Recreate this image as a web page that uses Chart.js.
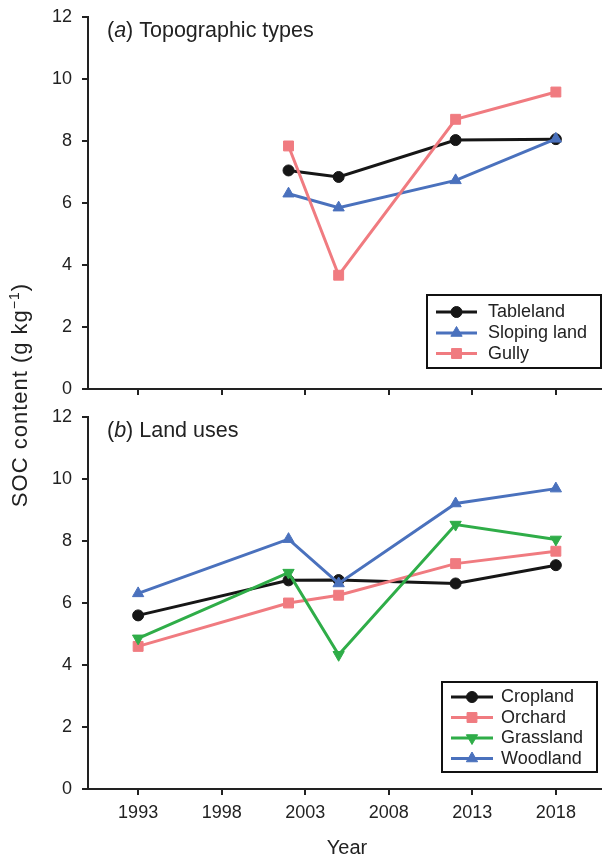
<!DOCTYPE html>
<html><head><meta charset="utf-8">
<script src="https://cdn.jsdelivr.net/npm/chart.js@4.4.0/dist/chart.umd.min.js"></script>
<style>
html,body{margin:0;padding:0;background:#fff;overflow:hidden;width:602px;height:858px;}
#clip{position:relative;width:602px;height:858px;overflow:hidden;background:#fff;}
#wrap{position:absolute;left:0;top:0;width:640px;height:880px;}
#cB{position:absolute;left:0;top:0;width:614px;height:870px;}
#cA{position:absolute;left:0;top:0;width:614px;height:400px;}
</style></head><body>
<div id="clip"><div id="wrap"><canvas id="cB" width="614" height="870"></canvas><canvas id="cA" width="614" height="400"></canvas></div></div>
<script>
// ---- data ----
const yearTicks = [1993, 1998, 2003, 2008, 2013, 2018];
const socTicks = [0, 2, 4, 6, 8, 10, 12];

const yearsA = [2002, 2005, 2012, 2018];
const tableland = [7.05, 6.84, 8.03, 8.06];
const slopingLand = [6.30, 5.85, 6.73, 8.07];
const gully = [7.84, 3.67, 8.70, 9.58];

const yearsB = [1993, 2002, 2005, 2012, 2018];
const cropland = [5.60, 6.73, 6.74, 6.63, 7.22];
const orchard = [4.60, 6.00, 6.25, 7.27, 7.67];
const grassland = [4.86, 6.98, 4.33, 8.53, 8.05];
const woodland = [6.31, 8.06, 6.63, 9.21, 9.69];

// ---- styles ----
const FONT = '"Liberation Sans", Arial, Helvetica, sans-serif';
const TXT = '#222';
const AX = '#222';
const C_BLACK = '#161616', C_BLUE = '#4a71bd', C_PINK = '#f07b80', C_GREEN = '#2fad48';

function pts(xs, ys) { return xs.map((x, i) => ({x: x, y: ys[i]})); }
function ds(label, xs, ys, color, style, r, rot, order) {
  return {label, data: pts(xs, ys), borderColor: color, backgroundColor: color,
    pointBackgroundColor: color, pointBorderColor: color, pointStyle: style,
    pointRadius: r, pointRotation: rot || 0, pointBorderWidth: 1, borderWidth: 3,
    tension: 0, order: order, clip: false};
}

const boxLegend = {
  id: 'boxLegend',
  afterDraw(chart, args, o) {
    if (!o || !o.box) return;
    const ctx = chart.ctx; ctx.save();
    ctx.lineWidth = 2; ctx.strokeStyle = '#111';
    ctx.strokeRect(o.box[0], o.box[1], o.box[2], o.box[3]);
    chart.data.datasets.forEach((d, i) => {
      const y = o.rows[i];
      ctx.strokeStyle = d.borderColor; ctx.lineWidth = 3;
      ctx.beginPath(); ctx.moveTo(o.line[0], y); ctx.lineTo(o.line[1], y); ctx.stroke();
      ctx.fillStyle = d.borderColor; ctx.strokeStyle = d.borderColor; ctx.lineWidth = 1;
      Chart.helpers.drawPoint(ctx, {pointStyle: d.pointStyle, radius: d.pointRadius, rotation: d.pointRotation || 0, borderWidth: 1}, (o.line[0] + o.line[1]) / 2, y);
      ctx.fillStyle = TXT; ctx.font = '18px ' + FONT; ctx.textBaseline = 'middle'; ctx.textAlign = 'left';
      ctx.fillText(d.label, o.textX, y + 0.5);
    });
    ctx.restore();
  }
};

const panelText = {
  id: 'panelText',
  afterDraw(chart, args, o) {
    if (!o) return;
    const ctx = chart.ctx; ctx.save();
    ctx.fillStyle = TXT; ctx.textBaseline = 'alphabetic'; ctx.textAlign = 'left';
    if (o.title) {
      let x = o.title.x; const y = o.title.y;
      const parts = [['(', ''], [o.title.letter, 'italic '], [') ' + o.title.text, '']];
      parts.forEach(p => { ctx.font = p[1] + '21.5px ' + FONT; ctx.fillText(p[0], x, y); x += ctx.measureText(p[0]).width; });
    }
    if (o.ytitle) {
      ctx.translate(o.ytitle.x, o.ytitle.y); ctx.rotate(-Math.PI / 2);
      try { ctx.letterSpacing = '1px'; } catch (e) {}
      const main = 'SOC content (g kg', sup = '\u22121', end = ')';
      ctx.font = '22px ' + FONT; const w1 = ctx.measureText(main).width, w3 = ctx.measureText(end).width;
      ctx.font = '14px ' + FONT; const w2 = ctx.measureText(sup).width;
      let x = -(w1 + w2 + w3) / 2;
      ctx.font = '22px ' + FONT; ctx.fillText(main, x, 0); x += w1;
      ctx.font = '14px ' + FONT; ctx.fillText(sup, x, -8); x += w2;
      ctx.font = '22px ' + FONT; ctx.fillText(end, x, 0);
    }
    ctx.restore();
  }
};

function yScale() {
  return {type: 'linear', min: 0, max: 12,
    afterBuildTicks: s => { s.ticks = socTicks.map(v => ({value: v})); },
    afterFit: s => { s.width = 88; s.paddingTop = 0; s.paddingBottom = 0; s.paddingLeft = 0; s.paddingRight = 0; },
    border: {display: true, color: AX, width: 2},
    grid: {drawOnChartArea: false, drawTicks: true, tickLength: 6, lineWidth: 2, color: AX, tickColor: AX},
    ticks: {color: TXT, font: {family: FONT, size: 18}, padding: 10, callback: v => String(v)}};
}
function xScale(showLabels, h) {
  return {type: 'linear', min: 1990, max: 2021,
    afterBuildTicks: s => { s.ticks = yearTicks.map(v => ({value: v})); },
    afterFit: s => { s.height = h; s.paddingLeft = 0; s.paddingRight = 0; s.paddingTop = 0; s.paddingBottom = 0; },
    border: {display: true, color: AX, width: 2},
    grid: {drawOnChartArea: false, drawTicks: true, tickLength: 6, lineWidth: 2, color: AX, tickColor: AX},
    ticks: {display: showLabels, color: TXT, font: {family: FONT, size: 18}, padding: 7, maxRotation: 0, autoSkip: false, callback: v => String(v)},
    title: {display: showLabels, text: 'Year', color: TXT, font: {family: FONT, size: 20}, padding: {top: 0, bottom: 10}}};
}

Chart.register(boxLegend, panelText);

new Chart(document.getElementById('cB'), {
  type: 'line',
  data: {datasets: [
    ds('Cropland', yearsB, cropland, C_BLACK, 'circle', 5.5, 0, 3),
    ds('Orchard', yearsB, orchard, C_PINK, 'rect', 7, 0, 2),
    ds('Grassland', yearsB, grassland, C_GREEN, 'triangle', 6.5, 180, 1),
    ds('Woodland', yearsB, woodland, C_BLUE, 'triangle', 6.5, 0, 0)
  ]},
  options: {responsive: false, animation: false, devicePixelRatio: 1,
    layout: {padding: {top: 417, left: 0, right: 0, bottom: 0}},
    scales: {x: xScale(true, 81), y: yScale()},
    plugins: {legend: {display: false}, tooltip: {enabled: false},
      boxLegend: {box: [442, 682, 155, 90], rows: [697, 717.5, 738, 758.5], line: [451, 493], textX: 501},
      panelText: {title: {x: 107, y: 437, letter: 'b', text: 'Land uses'}, ytitle: {x: 27, y: 395}}}}
});

new Chart(document.getElementById('cA'), {
  type: 'line',
  data: {datasets: [
    ds('Tableland', yearsA, tableland, C_BLACK, 'circle', 5.5, 0, 2),
    ds('Sloping land', yearsA, slopingLand, C_BLUE, 'triangle', 6.5, 0, 1),
    ds('Gully', yearsA, gully, C_PINK, 'rect', 7, 0, 0)
  ]},
  options: {responsive: false, animation: false, devicePixelRatio: 1,
    layout: {padding: {top: 17, left: 0, right: 0, bottom: 0}},
    scales: {x: xScale(false, 11), y: yScale()},
    plugins: {legend: {display: false}, tooltip: {enabled: false},
      boxLegend: {box: [427, 295, 174, 73], rows: [312, 333, 353.5], line: [436, 477], textX: 488},
      panelText: {title: {x: 107, y: 37, letter: 'a', text: 'Topographic types'}}}}
});
</script>
</body></html>
